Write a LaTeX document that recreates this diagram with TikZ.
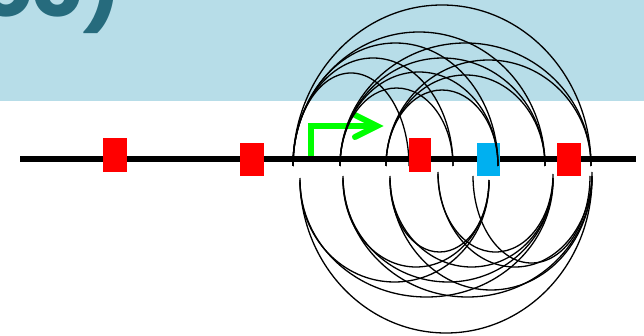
\documentclass[tikz,border=0pt]{standalone}
\usepackage{fontspec}
\newfontfamily\titlefont{Poppins}
\definecolor{bandblue}{HTML}{B7DDE8}
\definecolor{titleteal}{HTML}{266B7D}
\definecolor{promgreen}{HTML}{00FF00}
\definecolor{elemred}{HTML}{FF0000}
\definecolor{elemblue}{HTML}{00B0F0}
\tikzset{
  band/.style={fill=bandblue, draw=none},
  titletext/.style={text=titleteal, font=\titlefont\bfseries\fontsize{82}{86}\selectfont, inner sep=0pt},
  dnaline/.style={draw=black, line width=6pt},
  redbox/.style={fill=elemred, draw=none, inner sep=0pt, minimum width=24pt, minimum height=34pt},
  bluebox/.style={fill=elemblue, draw=none, inner sep=0pt, minimum width=23pt, minimum height=33pt},
  looparc/.style={draw=black, line width=1.3pt},
  promoter/.style={draw=promgreen, line width=6pt, line join=miter},
  promhead/.style={draw=promgreen, line width=6pt, line cap=round, line join=miter}
}
\newcommand\LoopUp[3]{\draw[looparc] (#1,166) arc[start angle=180, end angle=360, x radius={(#2-#1)/2}, y radius={166-#3}];}
\newcommand\LoopDown[4]{\draw[looparc] (#1,#3) arc[start angle=180, end angle=0, x radius={(#2-#1)/2}, y radius={#4-#3}];}
\begin{document}
\begin{tikzpicture}[x=1pt, y=-1pt]
\useasboundingbox (0,0) rectangle (644,336);
% title band
\fill[band] (0,0) rectangle (644,101);
\begin{scope}
  \clip (0,0) rectangle (644,101);
  \node[titletext, anchor=base west] (title) at (-20,17) {oc)};
\end{scope}
% promoter arrow
\coordinate (gbase) at (311,158);
\coordinate (gcorner) at (311,126);
\coordinate (gshaft) at (372,126);
\coordinate (gtip) at (377,126);
\coordinate (gup) at (355,115);
\coordinate (gdown) at (355,137);
\draw[promoter] (gbase) -- (gcorner) -- (gshaft);
\draw[promhead] (gup) -- (gtip) -- (gdown);
% chromatin line
\coordinate (lstart) at (20,159);
\coordinate (lend) at (636,159);
\draw[dnaline] (lstart) -- (lend);
% blue element (under the loops)
\node[bluebox] (b1) at (488.5,159.5) {};
% upper loops
\LoopUp{293}{591}{5}
\LoopUp{293}{545}{32}
\LoopUp{293}{498}{43}
\LoopUp{293}{453}{58}
\LoopUp{293}{409}{73}
\LoopUp{340}{591}{43}
\LoopUp{340}{545}{58}
\LoopUp{340}{498}{72}
\LoopUp{340}{453}{88}
\LoopUp{386}{591}{60}
\LoopUp{386}{545}{75}
\LoopUp{386}{498}{90}
% lower loops
\LoopDown{300}{592}{178}{333}
\LoopDown{300}{553}{180}{297}
\LoopDown{300}{489}{182}{282}
\LoopDown{343}{592}{176}{297}
\LoopDown{343}{553}{178}{282}
\LoopDown{343}{489}{180}{267}
\LoopDown{390}{592}{176}{290}
\LoopDown{390}{553}{178}{267}
\LoopDown{390}{489}{180}{252}
\LoopDown{438}{592}{172}{267}
\LoopDown{438}{553}{174}{252}
\LoopDown{473}{590}{176}{263}
% red elements
\node[redbox] (r1) at (115,155) {};
\node[redbox, minimum height=33pt] (r2) at (252,159.5) {};
\node[redbox, minimum width=22pt] (r3) at (420,155) {};
\node[redbox, minimum height=33pt] (r4) at (569,159.5) {};
\end{tikzpicture}
\end{document}
